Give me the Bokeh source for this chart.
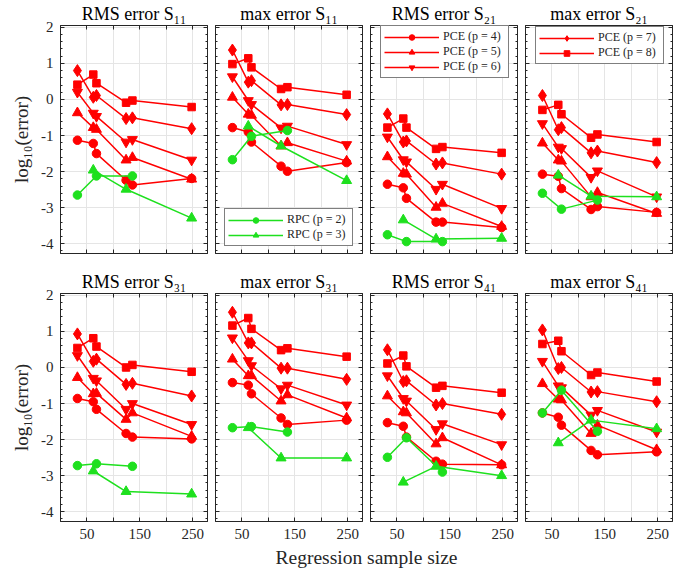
from bokeh.plotting import figure
from bokeh.layouts import column, row
from bokeh.models import Range1d, FixedTicker, LinearAxis, Legend, LegendItem
from bokeh.embed import file_html
from bokeh.resources import INLINE
from bokeh.core.properties import value

# ---------------- data ----------------
x_pce = [32, 62, 68, 124, 136, 248]
x_rpc2 = [32, 68, 136]
x_rpc3 = [62, 124, 248]

titles = ["RMS error S\u2081\u2081", "max error S\u2081\u2081", "RMS error S\u2082\u2081", "max error S\u2082\u2081",
          "RMS error S\u2083\u2081", "max error S\u2083\u2081", "RMS error S\u2084\u2081", "max error S\u2084\u2081"]

y_ticks = [-4, -3, -2, -1, 0, 1, 2]
x_ticks_labelled = [50, 150, 250]
x_ticks_between = [100, 200]

rms_s11_pce4 = [-1.13, -1.22, -1.50, -2.24, -2.37, -2.19]
rms_s11_pce5 = [-0.37, -0.78, -0.83, -1.68, -1.61, -2.21]
rms_s11_pce6 = [0.20, -0.38, -0.47, -1.18, -1.11, -1.68]
rms_s11_pce7 = [0.80, 0.06, 0.11, -0.53, -0.51, -0.81]
rms_s11_pce8 = [0.41, 0.69, 0.45, -0.09, -0.03, -0.21]
rms_s11_rpc2 = [-2.65, -2.12, -2.12]
rms_s11_rpc3 = [-1.96, -2.49, -3.29]

max_s11_pce4 = [-0.78, -0.90, -1.18, -1.85, -1.99, -1.75]
max_s11_pce5 = [0.06, -0.41, -0.44, -1.29, -1.20, -1.71]
max_s11_pce6 = [0.63, -0.03, -0.14, -0.79, -0.74, -1.25]
max_s11_pce7 = [1.37, 0.48, 0.52, -0.15, -0.14, -0.42]
max_s11_pce8 = [0.98, 1.14, 0.89, 0.29, 0.34, 0.13]
max_s11_rpc2 = [-1.67, -1.02, -0.86]
max_s11_rpc3 = [-0.74, -1.29, -2.25]

rms_s21_pce4 = [-2.35, -2.45, -2.74, -3.40, -3.40, -3.55]
rms_s21_pce5 = [-1.59, -2.05, -2.07, -2.99, -2.88, -3.52]
rms_s21_pce6 = [-1.04, -1.67, -1.73, -2.49, -2.35, -3.02]
rms_s21_pce7 = [-0.40, -1.18, -1.15, -1.79, -1.76, -2.07]
rms_s21_pce8 = [-0.78, -0.53, -0.78, -1.37, -1.32, -1.48]
rms_s21_rpc2 = [-3.75, -3.94, -3.94]
rms_s21_rpc3 = [-3.34, -3.87, -3.85]

max_s21_pce4 = [-2.07, -2.13, -2.47, -3.05, -2.97, -3.13]
max_s21_pce5 = [-1.21, -1.68, -1.71, -2.70, -2.58, -3.16]
max_s21_pce6 = [-0.67, -1.32, -1.36, -2.16, -1.98, -2.70]
max_s21_pce7 = [0.11, -0.84, -0.78, -1.48, -1.43, -1.75]
max_s21_pce8 = [-0.29, -0.15, -0.41, -1.06, -0.97, -1.18]
max_s21_rpc2 = [-2.60, -3.04, -2.79]
max_s21_rpc3 = [-2.10, -2.68, -2.70]

rms_s31_pce4 = [-0.86, -0.95, -1.16, -1.83, -1.93, -1.98]
rms_s31_pce5 = [-0.28, -0.73, -0.72, -1.44, -1.26, -1.91]
rms_s31_pce6 = [0.33, -0.30, -0.37, -1.16, -1.00, -1.58]
rms_s31_pce7 = [0.93, 0.17, 0.23, -0.47, -0.44, -0.79]
rms_s31_pce8 = [0.54, 0.81, 0.58, 0.00, 0.07, -0.12]
rms_s31_rpc2 = [-2.72, -2.67, -2.74]
rms_s31_rpc3 = [-2.87, -3.44, -3.51]

max_s31_pce4 = [-0.42, -0.49, -0.73, -1.40, -1.58, -1.46]
max_s31_pce5 = [0.23, -0.23, -0.23, -0.93, -0.76, -1.40]
max_s31_pce6 = [0.82, 0.19, 0.05, -0.59, -0.49, -1.04]
max_s31_pce7 = [1.53, 0.68, 0.68, -0.02, -0.02, -0.33]
max_s31_pce8 = [1.16, 1.37, 1.07, 0.48, 0.53, 0.30]
max_s31_rpc2 = [-1.67, -1.64, -1.79]
max_s31_rpc3 = [-1.67, -2.51, -2.51]

rms_s41_pce4 = [-1.53, -1.63, -1.93, -2.60, -2.68, -2.70]
rms_s41_pce5 = [-0.79, -1.23, -1.26, -2.12, -1.95, -2.70]
rms_s41_pce6 = [-0.23, -0.86, -0.93, -1.72, -1.56, -2.14]
rms_s41_pce7 = [0.49, -0.39, -0.37, -1.04, -1.00, -1.30]
rms_s41_pce8 = [0.11, 0.33, 0.03, -0.56, -0.51, -0.70]
rms_s41_rpc2 = [-2.49, -1.95, -2.90]
rms_s41_rpc3 = [-3.18, -2.74, -3.00]

max_s41_pce4 = [-1.26, -1.38, -1.60, -2.30, -2.42, -2.34]
max_s41_pce5 = [-0.45, -0.88, -0.90, -1.83, -1.60, -2.28]
max_s41_pce6 = [0.17, -0.51, -0.56, -1.32, -1.19, -1.79]
max_s41_pce7 = [1.04, -0.03, 0.00, -0.68, -0.67, -0.95]
max_s41_pce8 = [0.65, 0.74, 0.45, -0.21, -0.14, -0.39]
max_s41_rpc2 = [-1.26, -0.63, -1.77]
max_s41_rpc3 = [-2.09, -1.46, -1.70]

panel_data = [
    [rms_s11_pce4, rms_s11_pce5, rms_s11_pce6, rms_s11_pce7, rms_s11_pce8, rms_s11_rpc2, rms_s11_rpc3],
    [max_s11_pce4, max_s11_pce5, max_s11_pce6, max_s11_pce7, max_s11_pce8, max_s11_rpc2, max_s11_rpc3],
    [rms_s21_pce4, rms_s21_pce5, rms_s21_pce6, rms_s21_pce7, rms_s21_pce8, rms_s21_rpc2, rms_s21_rpc3],
    [max_s21_pce4, max_s21_pce5, max_s21_pce6, max_s21_pce7, max_s21_pce8, max_s21_rpc2, max_s21_rpc3],
    [rms_s31_pce4, rms_s31_pce5, rms_s31_pce6, rms_s31_pce7, rms_s31_pce8, rms_s31_rpc2, rms_s31_rpc3],
    [max_s31_pce4, max_s31_pce5, max_s31_pce6, max_s31_pce7, max_s31_pce8, max_s31_rpc2, max_s31_rpc3],
    [rms_s41_pce4, rms_s41_pce5, rms_s41_pce6, rms_s41_pce7, rms_s41_pce8, rms_s41_rpc2, rms_s41_rpc3],
    [max_s41_pce4, max_s41_pce5, max_s41_pce6, max_s41_pce7, max_s41_pce8, max_s41_rpc2, max_s41_rpc3],
]

series_labels = ["PCE (p = 4)", "PCE (p = 5)", "PCE (p = 6)", "PCE (p = 7)", "PCE (p = 8)",
                 "RPC (p = 2)", "RPC (p = 3)"]

# ---------------- style ----------------
FONT = "Liberation Serif"
RED = "#ff0000"
GREEN = "#1ee01e"
AX = "#262626"
FW, FH = 147, 228
series_x = [x_pce, x_pce, x_pce, x_pce, x_pce, x_rpc2, x_rpc3]
series_marker = ["circle", "triangle", "inverted_triangle", "diamond", "square", "circle", "triangle"]
series_size = [8.5, 10, 10, 12, 7.5, 8.5, 10]
series_color = [RED, RED, RED, RED, RED, GREEN, GREEN]

y_minor = [t / 5 for t in range(-21, 11) if t % 5 != 0]

# legend placement: panel index -> (series indices, location from frame bottom-left)
legend_spec = {1: ([5, 6], (9, 7)), 2: ([0, 1, 2], (10, 175)), 3: ([3, 4], (10, 189))}


def style_axis(ax, show_labels):
    ax.axis_line_color = AX
    ax.major_tick_line_color = AX
    ax.minor_tick_line_color = AX
    ax.major_tick_in = 4
    ax.major_tick_out = 0
    ax.minor_tick_out = 0
    ax.major_label_text_font = FONT
    if show_labels:
        ax.major_label_text_color = AX
        ax.major_label_text_font_size = "15px"
        ax.major_label_standoff = 7
    else:
        ax.major_label_text_color = None
        ax.major_label_text_font_size = "1px"
        ax.major_label_standoff = 0


def make_panel(i):
    r, c = divmod(i, 4)
    p = figure(frame_width=FW, frame_height=FH,
               x_range=Range1d(0, 278), y_range=Range1d(-4.27, 2.05),
               output_backend="svg", toolbar_location=None,
               x_axis_location=None, y_axis_location=None,
               min_border_left=60 if c == 0 else 4, min_border_right=4,
               min_border_top=25 if r == 0 else 36, min_border_bottom=4 if r == 0 else 24,
               title=None)
    p.outline_line_color = AX
    p.background_fill_color = "white"
    p.border_fill_color = "white"

    for place in ["left", "right"]:
        ax = LinearAxis(ticker=FixedTicker(ticks=y_ticks, minor_ticks=y_minor))
        show = place == "left" and c == 0
        style_axis(ax, show)
        ax.minor_tick_in = 2
        if show:
            ax.major_label_overrides = {t: str(t) for t in y_ticks}
            ax.axis_label = "log\u2081\u2080(error)"
            ax.axis_label_text_font = FONT
            ax.axis_label_text_font_size = "19px"
            ax.axis_label_text_font_style = "normal"
            ax.axis_label_text_color = AX
            ax.axis_label_standoff = 6
        p.add_layout(ax, place)
    for place in ["below", "above"]:
        ax = LinearAxis(ticker=FixedTicker(ticks=x_ticks_labelled, minor_ticks=x_ticks_between))
        show = place == "below" and r == 1
        style_axis(ax, show)
        ax.minor_tick_in = 4
        if place == "above":
            # panel title drawn as the label of the top axis
            ax.axis_label = titles[i]
            ax.axis_label_text_font = FONT
            ax.axis_label_text_font_size = "18px"
            ax.axis_label_text_font_style = "normal"
            ax.axis_label_text_color = "black"
            ax.axis_label_standoff = 2
        p.add_layout(ax, place)

    renderers = []
    for k in range(7):
        xs = series_x[k]
        ys = panel_data[i][k]
        ln = p.line(xs, ys, line_color=series_color[k], line_width=1.5)
        sc = p.scatter(xs, ys, marker=series_marker[k], size=series_size[k],
                       fill_color=series_color[k], line_color=series_color[k])
        renderers.append([ln, sc])

    if i in legend_spec:
        idxs, loc = legend_spec[i]
        items = [LegendItem(label=series_labels[k], renderers=renderers[k]) for k in idxs]
        lg = Legend(items=items, location=loc)
        lg.border_line_color = "black"
        lg.border_line_width = 1
        lg.background_fill_color = "white"
        lg.background_fill_alpha = 1
        lg.label_text_font = FONT
        lg.label_text_font_size = "12px"
        lg.label_text_color = AX
        lg.glyph_width = 55
        lg.glyph_height = 14
        lg.label_height = 14
        lg.label_width = 62
        lg.label_standoff = 4
        lg.spacing = 0
        lg.padding = 3
        lg.margin = 0
        p.add_layout(lg)
    return p


panels = [make_panel(i) for i in range(8)]

fx = figure(frame_width=676, frame_height=23, x_range=Range1d(0, 676), y_range=Range1d(0, 23),
            output_backend="svg", toolbar_location=None, x_axis_location=None, y_axis_location=None,
            min_border=0, title=None, outline_line_color=None)
fx.xgrid.visible = False
fx.ygrid.visible = False
fx.text(x=[366], y=[11.3], text=["Regression sample size"], text_align="center", text_baseline="middle",
        text_font=value(FONT), text_font_size="19.5px", text_color=AX)

layout = column(row(*panels[:4]), row(*panels[4:]), fx)

open("out.html", "w").write(file_html(layout, INLINE))
